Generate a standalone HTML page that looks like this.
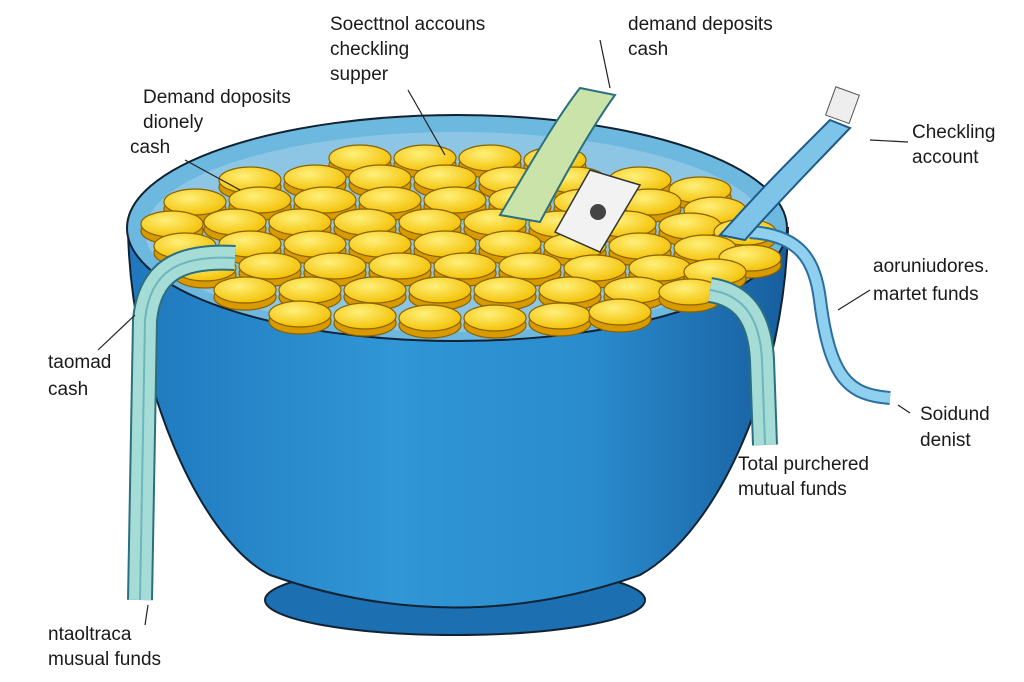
<!DOCTYPE html>
<html><head><meta charset="utf-8"><style>
html,body{margin:0;padding:0;background:#fff;}
svg{display:block}
text{font-family:"Liberation Sans",sans-serif;font-size:19px;fill:#1a1a1a}
</style></head><body>
<svg width="1024" height="682" viewBox="0 0 1024 682" xmlns="http://www.w3.org/2000/svg">
<defs>
<linearGradient id="bowl" x1="0" x2="1" y1="0" y2="0">
<stop offset="0" stop-color="#1f78bd"/><stop offset="0.4" stop-color="#3096d6"/><stop offset="0.7" stop-color="#2a8ccd"/><stop offset="1" stop-color="#175e9f"/>
</linearGradient>
<radialGradient id="coin" cx="0.4" cy="0.35" r="0.7"><stop offset="0" stop-color="#fff07a"/><stop offset="1" stop-color="#f3bf00"/></radialGradient>
<g id="c"><ellipse cx="0" cy="7" rx="31" ry="13" fill="#d99a00" stroke="#8a6200" stroke-width="1.2"/><ellipse cx="0" cy="0" rx="31" ry="13" fill="url(#coin)" stroke="#8a6200" stroke-width="1.2"/></g>
</defs>
<ellipse cx="455" cy="600" rx="190" ry="35" fill="#1c6fb0" stroke="#123" stroke-width="2"/>
<path d="M128 228 C130 380 200 540 270 575 Q455 640 640 575 C720 530 785 380 788 228 Z" fill="url(#bowl)" stroke="#123" stroke-width="2"/>
<ellipse cx="457" cy="228" rx="330" ry="113" fill="#6cb8df" stroke="#123" stroke-width="2"/>
<ellipse cx="457" cy="232" rx="312" ry="100" fill="#8cc6e4"/>
<g>
<use href="#c" x="360" y="158"/><use href="#c" x="425" y="158"/><use href="#c" x="490" y="158"/><use href="#c" x="555" y="160"/>
<use href="#c" x="250" y="180"/><use href="#c" x="315" y="178"/><use href="#c" x="380" y="178"/><use href="#c" x="445" y="178"/><use href="#c" x="510" y="180"/><use href="#c" x="575" y="180"/><use href="#c" x="640" y="180"/><use href="#c" x="700" y="190"/>
<use href="#c" x="195" y="202"/><use href="#c" x="260" y="200"/><use href="#c" x="325" y="200"/><use href="#c" x="390" y="200"/><use href="#c" x="455" y="200"/><use href="#c" x="520" y="200"/><use href="#c" x="585" y="202"/><use href="#c" x="650" y="202"/><use href="#c" x="715" y="210"/>
<use href="#c" x="172" y="224"/><use href="#c" x="235" y="222"/><use href="#c" x="300" y="222"/><use href="#c" x="365" y="222"/><use href="#c" x="430" y="222"/><use href="#c" x="495" y="222"/><use href="#c" x="560" y="224"/><use href="#c" x="625" y="224"/><use href="#c" x="690" y="226"/><use href="#c" x="745" y="232"/>
<use href="#c" x="185" y="246"/><use href="#c" x="250" y="244"/><use href="#c" x="315" y="244"/><use href="#c" x="380" y="244"/><use href="#c" x="445" y="244"/><use href="#c" x="510" y="244"/><use href="#c" x="575" y="246"/><use href="#c" x="640" y="246"/><use href="#c" x="705" y="248"/><use href="#c" x="750" y="258"/>
<use href="#c" x="205" y="268"/><use href="#c" x="270" y="266"/><use href="#c" x="335" y="266"/><use href="#c" x="400" y="266"/><use href="#c" x="465" y="266"/><use href="#c" x="530" y="266"/><use href="#c" x="595" y="268"/><use href="#c" x="660" y="268"/><use href="#c" x="715" y="272"/>
<use href="#c" x="245" y="290"/><use href="#c" x="310" y="290"/><use href="#c" x="375" y="290"/><use href="#c" x="440" y="290"/><use href="#c" x="505" y="290"/><use href="#c" x="570" y="290"/><use href="#c" x="635" y="290"/><use href="#c" x="690" y="292"/>
<use href="#c" x="300" y="314"/><use href="#c" x="365" y="316"/><use href="#c" x="430" y="318"/><use href="#c" x="495" y="318"/><use href="#c" x="560" y="316"/><use href="#c" x="620" y="312"/>
</g>
<g fill="none" stroke-linejoin="round">
<path d="M235 258 C180 255 150 270 145 320 L140 600" stroke="#2b6f80" stroke-width="26"/>
<path d="M235 258 C180 255 150 270 145 320 L140 600" stroke="#a6dcd6" stroke-width="22"/>
<path d="M235 258 C180 255 150 270 145 320 L140 600" stroke="#6fb5be" stroke-width="2"/>
<path d="M710 290 C745 295 760 320 762 360 L765 445" stroke="#2b6f80" stroke-width="26"/>
<path d="M710 290 C745 295 760 320 762 360 L765 445" stroke="#a6dcd6" stroke-width="22"/>
<path d="M710 290 C745 295 760 320 762 360 L765 445" stroke="#6fb5be" stroke-width="2"/>
<path d="M750 232 C800 235 815 260 820 300 C830 380 850 395 890 398" stroke="#2a6fa0" stroke-width="14"/>
<path d="M750 232 C800 235 815 260 820 300 C830 380 850 395 890 398" stroke="#8fd0ee" stroke-width="10"/>
</g>
<path d="M500 215 C530 165 555 120 580 88 L615 95 C590 130 565 175 540 222 Z" fill="#c9e3a8" stroke="#2b6f80" stroke-width="2"/>
<path d="M720 235 C760 190 790 160 830 120 L850 128 C810 170 780 200 745 240 Z" fill="#7ec4e8" stroke="#1d5c8a" stroke-width="2"/>
<rect x="830" y="90" width="25" height="30" fill="#eee" stroke="#555" transform="rotate(20 842 105)"/>
<path d="M555 232 L590 170 L640 185 L600 252 Z" fill="#f2f2f2" stroke="#333" stroke-width="1.5"/>
<circle cx="598" cy="212" r="8" fill="#444"/>
<g stroke="#222" stroke-width="1.2" fill="none">
<line x1="408" y1="90" x2="445" y2="155"/><line x1="600" y1="40" x2="610" y2="88"/>
<line x1="185" y1="160" x2="240" y2="190"/><line x1="908" y1="142" x2="870" y2="140"/>
<line x1="870" y1="290" x2="838" y2="310"/><line x1="98" y1="350" x2="135" y2="315"/>
<line x1="910" y1="413" x2="898" y2="405"/><line x1="145" y1="625" x2="148" y2="605"/>
</g>
<text x="330" y="30">Soecttnol accouns</text>
<text x="330" y="55">checkling</text>
<text x="330" y="80">supper</text>
<text x="628" y="30">demand deposits</text>
<text x="628" y="55">cash</text>
<text x="143" y="103">Demand doposits</text>
<text x="143" y="128">dionely</text>
<text x="130" y="153">cash</text>
<text x="912" y="138">Checkling</text>
<text x="912" y="163">account</text>
<text x="873" y="272">aoruniudores.</text>
<text x="873" y="300">martet funds</text>
<text x="48" y="368">taomad</text>
<text x="48" y="395">cash</text>
<text x="920" y="420">Soidund</text>
<text x="920" y="446">denist</text>
<text x="738" y="470">Total purchered</text>
<text x="738" y="495">mutual funds</text>
<text x="48" y="640">ntaoltraca</text>
<text x="48" y="665">musual funds</text>
</svg>
</body></html>
